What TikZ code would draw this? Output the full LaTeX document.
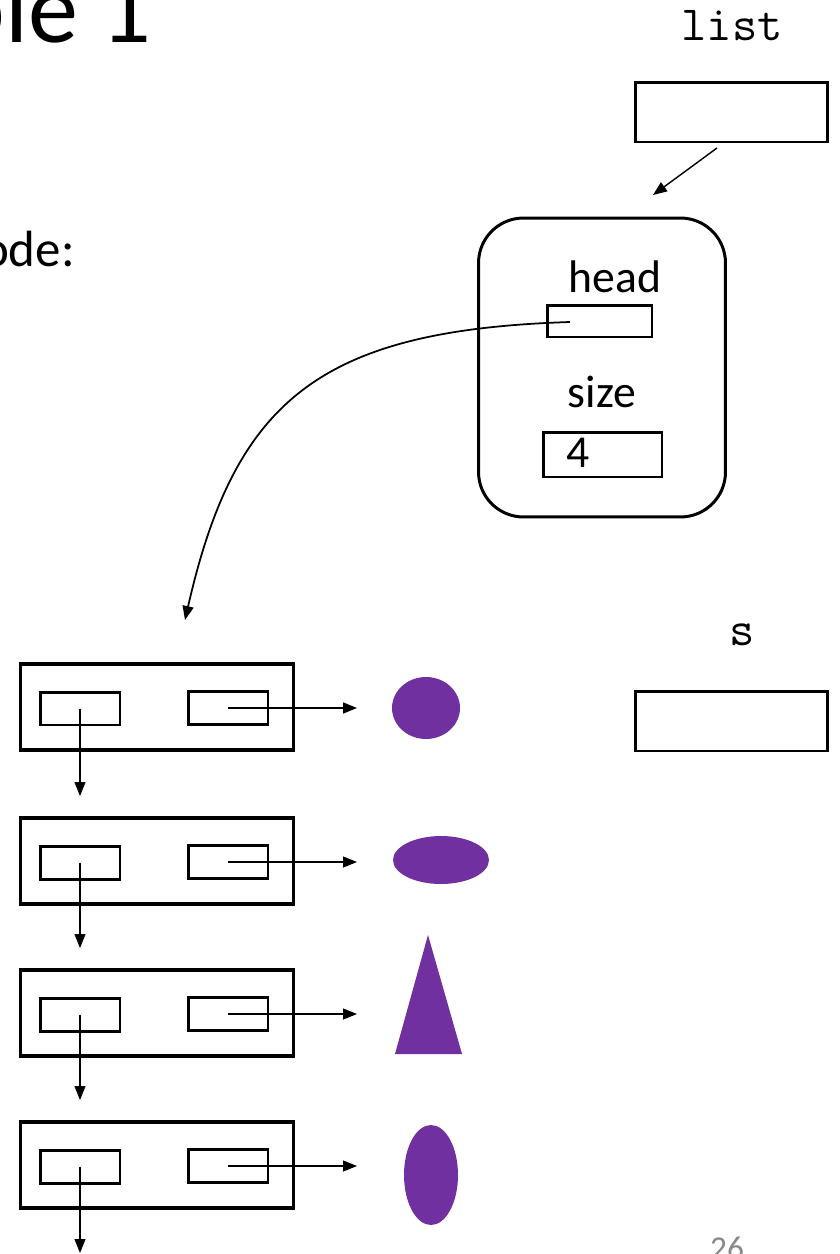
\documentclass[tikz,border=0pt]{standalone}
\usepackage{fontspec}
\setmainfont{Carlito}
\usetikzlibrary{arrows.meta,shapes.geometric}
\definecolor{objpurple}{HTML}{7030A0}
\definecolor{pagegray}{HTML}{898989}

\begin{document}
\begin{tikzpicture}[
    x=0.02cm, y=-0.02cm,
    label/.style={inner sep=0, anchor=base, font=\fontsize{26}{30}\selectfont},
    code/.style={inner sep=0, anchor=base, font=\ttfamily\fontsize{28}{32}\selectfont},
    var/.style={rectangle, draw, line width=1.7pt, minimum width=3.86cm,
                minimum height=1.2cm, inner sep=0},
    field/.style={rectangle, draw, line width=1.7pt, minimum width=1.6cm,
                  minimum height=0.66cm, inner sep=0},
    cell/.style={rectangle, draw, line width=2pt, minimum width=5.46cm,
                 minimum height=1.72cm, inner sep=0},
    obj/.style={ellipse, fill=objpurple, inner sep=0},
    ptr/.style={-{Triangle[length=0.28cm, width=0.22cm]}, line width=0.8pt}
]
    \clip (0,0) rectangle (839,1254);

    % slide text cut off at the left
    \node[inner sep=0, anchor=base east, font=\fontsize{57}{60}\selectfont] (title) at (152,42) {Example 1};
    \node[inner sep=0, anchor=base east, font=\fontsize{29}{32}\selectfont] (intro) at (75,266) {Node:};

    % list variable and list object
    \node[code] (listname) at (732,40) {list};
    \node[var] (listvar) at (731.5,112) {};
    \node[draw, rounded corners=0.9cm, line width=1.7pt, minimum width=4.94cm,
          minimum height=5.98cm, inner sep=0] (listobj) at (602,367.5) {};
    \node[label] (headlbl) at (615,292) {head};
    \node[field, minimum width=2.1cm, minimum height=0.64cm] (headf) at (599.5,321) {};
    \node[label] (sizelbl) at (602,407) {size};
    \node[field, minimum width=2.38cm, minimum height=0.9cm] (sizef) at (602.5,454.5) {};
    \node[label, anchor=base west] (sizeval) at (566,467) {4};

    \node[code] (sname) at (742,645) {s};
    \node[var] (svar) at (731.5,721) {};

    % nodes of the chain
    \node[cell] (n1) at (157,707) {};
    \node[field] (n1a) at (80,708.5) {};
    \node[field] (n1b) at (228,708) {};
    \node[cell] (n2) at (157,861) {};
    \node[field] (n2a) at (80,862.5) {};
    \node[field] (n2b) at (228,862) {};
    \node[cell] (n3) at (157,1013) {};
    \node[field] (n3a) at (80,1014.5) {};
    \node[field] (n3b) at (228,1014) {};
    \node[cell] (n4) at (157,1165) {};
    \node[field] (n4a) at (80,1166.5) {};
    \node[field] (n4b) at (228,1166) {};

    % the data
    \node[obj, minimum width=1.36cm, minimum height=1.24cm] (obj1) at (426,708) {};
    \node[obj, minimum width=1.92cm, minimum height=0.96cm] (obj2) at (441,860) {};
    \fill[objpurple] (428,935) -- (395,1054) -- (462,1054) -- cycle;
    \node[obj, minimum width=1.08cm, minimum height=2.0cm] (obj4) at (431,1175) {};

    \coordinate (listtip) at (653,195);
    \coordinate (listout) at (717,148);
    \coordinate (headout) at (570,322);
    \coordinate (chaintip) at (185,620);
    \coordinate (t1) at (357,708);
    \coordinate (t2) at (357,862);
    \coordinate (t3) at (357,1014);
    \coordinate (t4) at (357,1166);
    \coordinate (d1) at (80,796);
    \coordinate (d2) at (80,948);
    \coordinate (d3) at (80,1100);
    \coordinate (d4) at (80,1253);

    \draw[ptr] (listout) -- (listtip);
    \draw[ptr, line width=1pt] (headout) .. controls (320,330) and (235,400) .. (chaintip);
    \draw[ptr] (n1b.center) -- (t1);
    \draw[ptr] (n2b.center) -- (t2);
    \draw[ptr] (n3b.center) -- (t3);
    \draw[ptr] (n4b.center) -- (t4);
    \draw[ptr] (n1a.center) -- (d1);
    \draw[ptr] (n2a.center) -- (d2);
    \draw[ptr] (n3a.center) -- (d3);
    \draw[ptr] (n4a.center) -- (d4);

    \node[inner sep=0, anchor=base, text=pagegray, font=\fontsize{19}{22}\selectfont] (page) at (727,1259) {26};
\end{tikzpicture}
\end{document}
